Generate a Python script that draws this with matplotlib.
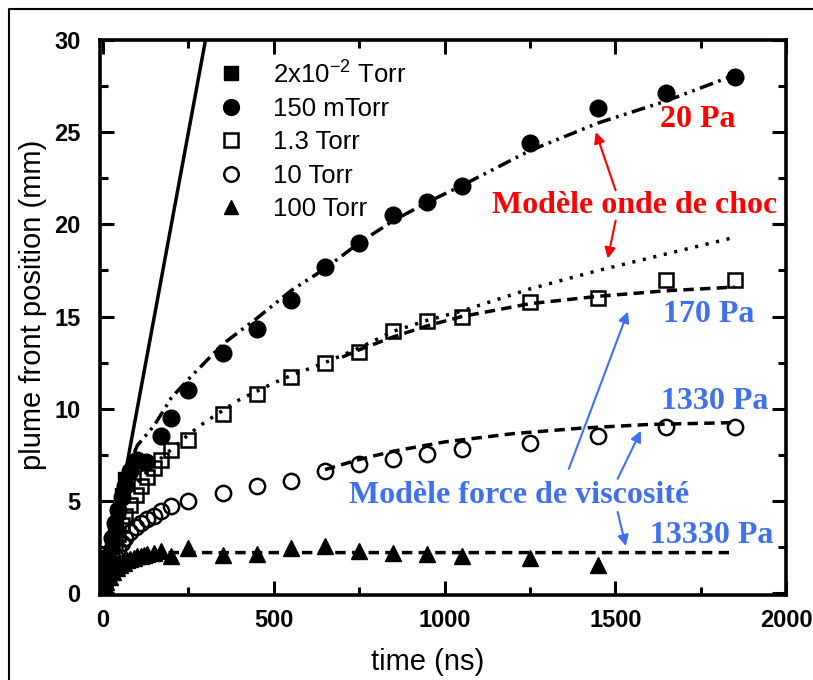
import numpy as np
import matplotlib
matplotlib.use('Agg')
import matplotlib.pyplot as plt
from matplotlib.lines import Line2D
from matplotlib.ticker import MultipleLocator

plt.rcParams['font.family'] = ['Liberation Sans', 'DejaVu Sans']
plt.rcParams['mathtext.fontset'] = 'custom'
plt.rcParams['mathtext.rm'] = 'Liberation Sans'

# --- donnees mesurees (lues sur la figure) ---
# 2x10^-2 Torr (vide), carres pleins
t_vide = [5, 15, 25, 35, 45, 55, 65]
y_vide = [0.5, 1.5, 2.5, 3.4, 4.4, 5.3, 6.2]

# 150 mTorr, cercles pleins
t_150m = [5, 15, 25, 35, 45, 55, 65, 80, 100, 125, 170, 200, 250, 350, 450, 550,
          650, 750, 850, 950, 1050, 1250, 1450, 1650, 1850]
y_150m = [0.8, 2.0, 3.0, 3.8, 4.5, 5.2, 5.8, 6.6, 7.2, 7.1, 8.5, 9.5, 11.0, 13.0, 14.3, 15.9,
          17.7, 19.0, 20.5, 21.2, 22.1, 24.4, 26.3, 27.1, 28.0]

# 1.3 Torr, carres vides
t_13 = [5, 15, 25, 35, 45, 55, 65, 80, 95, 110, 130, 150, 170, 200, 250, 350, 450, 550,
        650, 750, 850, 950, 1050, 1250, 1450, 1650, 1850]
y_13 = [0.8, 1.6, 2.2, 2.7, 3.2, 3.7, 4.2, 4.8, 5.3, 5.8, 6.3, 6.8, 7.2, 7.75, 8.3, 9.7, 10.8, 11.75,
        12.5, 13.1, 14.2, 14.75, 15.0, 15.8, 16.0, 17.0, 17.0]

# 10 Torr, cercles vides
t_10 = [5, 15, 25, 35, 45, 55, 65, 80, 95, 110, 130, 150, 170, 200, 250, 350, 450, 550,
        650, 750, 850, 950, 1050, 1250, 1450, 1650, 1850]
y_10 = [0.5, 1.1, 1.6, 2.0, 2.4, 2.7, 3.0, 3.3, 3.6, 3.8, 4.0, 4.2, 4.45, 4.75, 5.0, 5.45, 5.8, 6.1,
        6.6, 7.0, 7.3, 7.55, 7.8, 8.15, 8.5, 9.0, 9.0]

# 100 Torr, triangles pleins
t_100 = [5, 10, 20, 30, 40, 50, 60, 70, 80, 90, 100, 110, 120, 130, 150, 170, 200, 250,
         350, 450, 550, 650, 750, 850, 950, 1050, 1250, 1450]
y_100 = [0.3, 0.6, 0.9, 1.15, 1.35, 1.5, 1.65, 1.8, 1.85, 1.9, 2.0, 2.0, 2.05, 2.1, 2.2, 2.3, 2.0, 2.45,
         2.05, 2.15, 2.45, 2.55, 2.3, 2.2, 2.15, 2.0, 1.9, 1.5]

# --- modeles ---
t_lin = [0, 305]
y_lin = [0, 30.5]

t_choc20 = [0, 20, 40, 60, 80, 100, 150, 200, 250, 350, 450, 550, 650, 750, 850, 950,
            1050, 1250, 1450, 1650, 1850]
y_choc20 = [0, 2.2, 4.2, 5.8, 7.1, 8.0, 9.1, 10.6, 11.6, 13.5, 14.9, 16.4, 17.6, 19.0, 20.2, 21.2,
            22.1, 24.0, 25.5, 26.7, 28.1]

t_choc170 = [0, 10, 25, 50, 100, 150, 200, 250, 300, 400, 500, 550, 650, 750, 850, 950,
             1050, 1250, 1450, 1650, 1850]
y_choc170 = [0, 2.2, 3.3, 4.5, 6.0, 7.0, 7.8, 8.6, 9.3, 10.5, 11.4, 11.8, 12.5, 13.3, 14.2, 14.8,
             15.3, 16.5, 17.5, 18.4, 19.3]

t_visc170 = [700, 750, 850, 950, 1050, 1250, 1450, 1650, 1850]
y_visc170 = [12.8, 13.2, 13.9, 14.5, 15.0, 15.7, 16.1, 16.4, 16.6]

t_visc1330 = [650, 750, 850, 1000, 1200, 1400, 1600, 1850]
y_visc1330 = [6.7, 7.25, 7.7, 8.2, 8.65, 8.95, 9.15, 9.25]

t_visc13330 = [0, 25, 50, 100, 150, 200, 1850]
y_visc13330 = [0, 1.0, 1.5, 1.9, 2.1, 2.2, 2.2]

legende = [r'2x10$^{\mathregular{-2}}$ Torr', '150 mTorr', '1.3 Torr', '10 Torr', '100 Torr']

rouge = '#ff0000'
bleu = '#4070f0'

fig = plt.figure(figsize=(8.13, 6.8), dpi=100)
ax = fig.add_axes([100 / 813, 1 - 595 / 680, 686 / 813, 555 / 680])

# cadre exterieur
fig.add_artist(Line2D([9 / 813, 9 / 813, 1.0], [0.0, 1 - 9 / 680, 1 - 9 / 680],
                      transform=fig.transFigure, color='black', lw=1.5))

lw = 2.5
ax.plot(t_lin, y_lin, '-', color='black', lw=lw, zorder=2)
ax.plot(t_choc20, y_choc20, color='black', lw=lw, linestyle=(0, (4, 1.6, 0.8, 1.6, 0.8, 1.6)), zorder=2)
ax.plot(t_choc170, y_choc170, color='black', lw=lw, linestyle=(0, (0.9, 2.2)), zorder=2)
ax.plot(t_visc170, y_visc170, color='black', lw=lw, linestyle=(0, (3, 1.8)), zorder=2)
ax.plot(t_visc1330, y_visc1330, color='black', lw=lw, linestyle=(0, (3, 1.8)), zorder=2)
ax.plot(t_visc13330, y_visc13330, color='black', lw=lw, linestyle=(0, (3, 1.8)), zorder=2)

ax.plot(t_vide, y_vide, 's', color='black', ms=10, zorder=3, label=legende[0])
ax.plot(t_150m, y_150m, 'o', color='black', ms=12, zorder=3, label=legende[1])
ax.plot(t_13, y_13, 's', mfc='none', mec='black', mew=1.8, ms=10, zorder=3, label=legende[2])
ax.plot(t_10, y_10, 'o', mfc='none', mec='black', mew=1.8, ms=11, zorder=3, label=legende[3])
ax.plot(t_100, y_100, '^', color='black', ms=11, zorder=3, label=legende[4])

ax.legend(loc='upper left', bbox_to_anchor=(0.172, 0.965), frameon=False, fontsize=18.5,
          borderaxespad=0, borderpad=0, handlelength=1.0, handletextpad=1.14,
          labelspacing=0.37, markerscale=0.95)

# annotations
ser = ['Liberation Serif', 'DejaVu Serif']
ax.text(1742, 25.7, '20 Pa', color=rouge, fontsize=23, fontweight='bold', family=ser,
        ha='center', va='center')
ax.text(1557, 21.0, 'Modèle onde de choc', color=rouge, fontsize=23, fontweight='bold', family=ser,
        ha='center', va='center')
ax.text(1774, 15.1, '170 Pa', color=bleu, fontsize=23, fontweight='bold', family=ser,
        ha='center', va='center')
ax.text(1792, 10.4, '1330 Pa', color=bleu, fontsize=23, fontweight='bold', family=ser,
        ha='center', va='center')
ax.text(1217, 5.27, 'Modèle force de viscosité', color=bleu, fontsize=23, fontweight='bold', family=ser,
        ha='center', va='center')
ax.text(1783, 3.15, '13330 Pa', color=bleu, fontsize=23, fontweight='bold', family=ser,
        ha='center', va='center')

fleches = [((1443, 25.0), (1501, 21.85), rouge),
           ((1478, 18.15), (1501, 20.2), rouge),
           ((1537, 15.27), (1364, 6.74), bleu),
           ((1575, 8.8), (1507, 6.2), bleu),
           ((1531, 2.55), (1507, 4.4), bleu)]
for tete, queue, c in fleches:
    ax.annotate('', xy=tete, xytext=queue,
                arrowprops=dict(arrowstyle='-|>', color=c, lw=1.5, mutation_scale=16,
                                shrinkA=0, shrinkB=0))

ax.set_xlim(-9, 2000)
ax.set_ylim(-0.1, 30)
ax.xaxis.set_major_locator(MultipleLocator(500))
ax.xaxis.set_minor_locator(MultipleLocator(250))
ax.yaxis.set_major_locator(MultipleLocator(5))
ax.yaxis.set_minor_locator(MultipleLocator(2.5))
ax.tick_params(which='both', direction='in', top=True, right=True, width=2.2)
ax.tick_params(which='major', length=10)
ax.tick_params(which='minor', length=6)
ax.tick_params(axis='x', which='major', pad=10, labelsize=17)
ax.tick_params(axis='y', which='major', pad=14, labelsize=17)
for lab in ax.get_xticklabels() + ax.get_yticklabels():
    lab.set_fontweight('bold')
for s in ax.spines.values():
    s.set_linewidth(2.6)

ax.set_xlabel('time (ns)', fontsize=21)
ax.set_ylabel('plume front position (mm)', fontsize=21)
ax.xaxis.set_label_coords(0.477, -0.095)
ax.yaxis.set_label_coords(-0.077, 0.523)

fig.savefig('out.png', dpi=100)
